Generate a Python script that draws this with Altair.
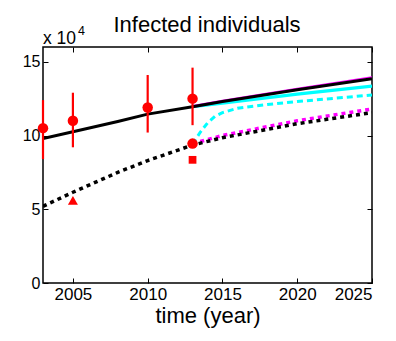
import altair as alt
import pandas as pd

# values in units of 10^4
black_solid_t = [2003, 2005, 2008, 2010, 2013, 2015, 2020, 2025]
black_solid_v = [9.8, 10.25, 10.95, 11.45, 11.95, 12.3, 13.1, 13.85]
magenta_solid_t = [2013, 2015, 2020, 2025]
magenta_solid_v = [11.96, 12.33, 13.14, 13.92]
cyan_solid_t = [2013, 2015, 2020, 2025]
cyan_solid_v = [11.95, 12.2, 12.8, 13.35]
cyan_dash_t = [2013, 2013.5, 2014, 2014.5, 2015, 2016, 2018, 2020, 2025]
cyan_dash_v = [9.4, 10.2, 10.85, 11.3, 11.55, 11.85, 12.1, 12.3, 12.75]
black_dot_t = [2003, 2005, 2008, 2010, 2013, 2015, 2020, 2025]
black_dot_v = [5.2, 6.15, 7.5, 8.3, 9.35, 9.85, 10.8, 11.55]
magenta_dot_t = [2013, 2015, 2020, 2025]
magenta_dot_v = [9.45, 10.0, 11.0, 11.8]

obs_t = [2003, 2005, 2010, 2013]
obs_v = [10.5, 11.0, 11.9, 12.5]
obs_lo = [8.4, 9.2, 10.2, 10.7]
obs_hi = [12.4, 12.9, 14.1, 14.6]
circle2_t = [2013]
circle2_v = [9.45]
square_t = [2013]
square_v = [8.35]
tri_t = [2005]
tri_v = [5.6]

x_ticks = [2005, 2010, 2015, 2020, 2025]
y_ticks = [0, 5, 10, 15]

FONT = "Liberation Sans"
xs = alt.Scale(domain=[2003, 2025], nice=False, zero=False)
ys = alt.Scale(domain=[0, 16], nice=False, zero=True)


def df(t, v):
    return pd.DataFrame({"t": t, "v": v})


def line(t, v, color, width, dash=None):
    kw = dict(color=color, strokeWidth=width, clip=True)
    if dash:
        kw["strokeDash"] = dash
    return alt.Chart(df(t, v)).mark_line(**kw).encode(
        x=alt.X("t:Q", scale=xs, axis=None),
        y=alt.Y("v:Q", scale=ys, axis=None),
    )


bottom_axis = alt.Chart(df(black_solid_t, black_solid_v)).mark_point(opacity=0).encode(
    x=alt.X("t:Q", scale=xs, axis=alt.Axis(
        orient="bottom", values=x_ticks, format="d", domain=False, grid=False,
        offset=-5, tickSize=5, tickColor="black", tickWidth=1,
        labelFont=FONT, labelFontSize=17, labelColor="black", labelPadding=3,
        title="time (year)", titleFont=FONT, titleFontSize=22,
        titleFontWeight="normal", titleColor="black", titlePadding=3,
    )),
    y=alt.Y("v:Q", scale=ys, axis=alt.Axis(
        orient="left", values=y_ticks, domain=False, grid=False,
        offset=-5, tickSize=5, tickColor="black", tickWidth=1,
        labelFont=FONT, labelFontSize=16, labelColor="black", labelPadding=3,
        title=None,
    )),
)
top_axis = alt.Chart(df(black_solid_t, black_solid_v)).mark_point(opacity=0).encode(
    x=alt.X("t:Q", scale=xs, axis=alt.Axis(
        orient="top", values=x_ticks, domain=False, grid=False, labels=False,
        offset=-5, tickSize=5, tickColor="black", title=None,
    )),
    y=alt.Y("v:Q", scale=ys, axis=alt.Axis(
        orient="right", values=y_ticks, domain=False, grid=False, labels=False,
        offset=-5, tickSize=5, tickColor="black", title=None,
    )),
)

obs = pd.DataFrame({"t": obs_t, "v": obs_v, "lo": obs_lo, "hi": obs_hi})
err = alt.Chart(obs).mark_rule(color="#ff0000", strokeWidth=2.2).encode(
    x=alt.X("t:Q", scale=xs, axis=None),
    y=alt.Y("lo:Q", scale=ys, axis=None),
    y2="hi:Q",
)
pts = alt.Chart(obs).mark_point(filled=True, shape="circle", size=110, color="#ff0000", opacity=1).encode(
    x=alt.X("t:Q", scale=xs, axis=None), y=alt.Y("v:Q", scale=ys, axis=None))
pts2 = alt.Chart(df(circle2_t, circle2_v)).mark_point(filled=True, shape="circle", size=110, color="#ff0000", opacity=1).encode(
    x=alt.X("t:Q", scale=xs, axis=None), y=alt.Y("v:Q", scale=ys, axis=None))
sq = alt.Chart(df(square_t, square_v)).mark_point(filled=True, shape="square", size=60, color="#ff0000", opacity=1).encode(
    x=alt.X("t:Q", scale=xs, axis=None), y=alt.Y("v:Q", scale=ys, axis=None))
tri = alt.Chart(df(tri_t, tri_v)).mark_point(filled=True, shape="triangle-up", size=100, color="#ff0000", opacity=1).encode(
    x=alt.X("t:Q", scale=xs, axis=None), y=alt.Y("v:Q", scale=ys, axis=None))

title_txt = alt.Chart(pd.DataFrame({"s": ["Infected individuals"]})).mark_text(
    font=FONT, fontSize=22, align="center", baseline="alphabetic", color="black"
).encode(text="s:N", x=alt.value(164), y=alt.value(-15))
x10 = alt.Chart(pd.DataFrame({"s": ["x 10"]})).mark_text(
    font=FONT, fontSize=17.5, align="left", baseline="alphabetic", color="black"
).encode(text="s:N", x=alt.value(0), y=alt.value(-3))
exp4 = alt.Chart(pd.DataFrame({"s": ["4"]})).mark_text(
    font=FONT, fontSize=12.5, align="left", baseline="alphabetic", color="black"
).encode(text="s:N", x=alt.value(35), y=alt.value(-12))

chart = alt.layer(
    bottom_axis,
    top_axis,
    line(magenta_dot_t, magenta_dot_v, "#ff00ff", 3.5, [4, 4]),
    line(black_dot_t, black_dot_v, "black", 3.5, [4, 4]),
    line(cyan_dash_t, cyan_dash_v, "#00ffff", 3, [6, 4]),
    line(cyan_solid_t, cyan_solid_v, "#00ffff", 3.2),
    line(magenta_solid_t, magenta_solid_v, "#ff00ff", 3),
    line(black_solid_t, black_solid_v, "black", 3),
    err, pts, pts2, sq, tri,
    title_txt, x10, exp4,
).resolve_axis(x="independent", y="independent").properties(
    width=329, height=236,
    autosize=alt.AutoSizeParams(type="none"),
    padding={"left": 35, "top": 39, "right": 16, "bottom": 50},
).configure(background="white").configure_view(stroke="black", strokeWidth=1.5)

chart.save("out.html", embed_options={"renderer": "svg", "actions": False})
